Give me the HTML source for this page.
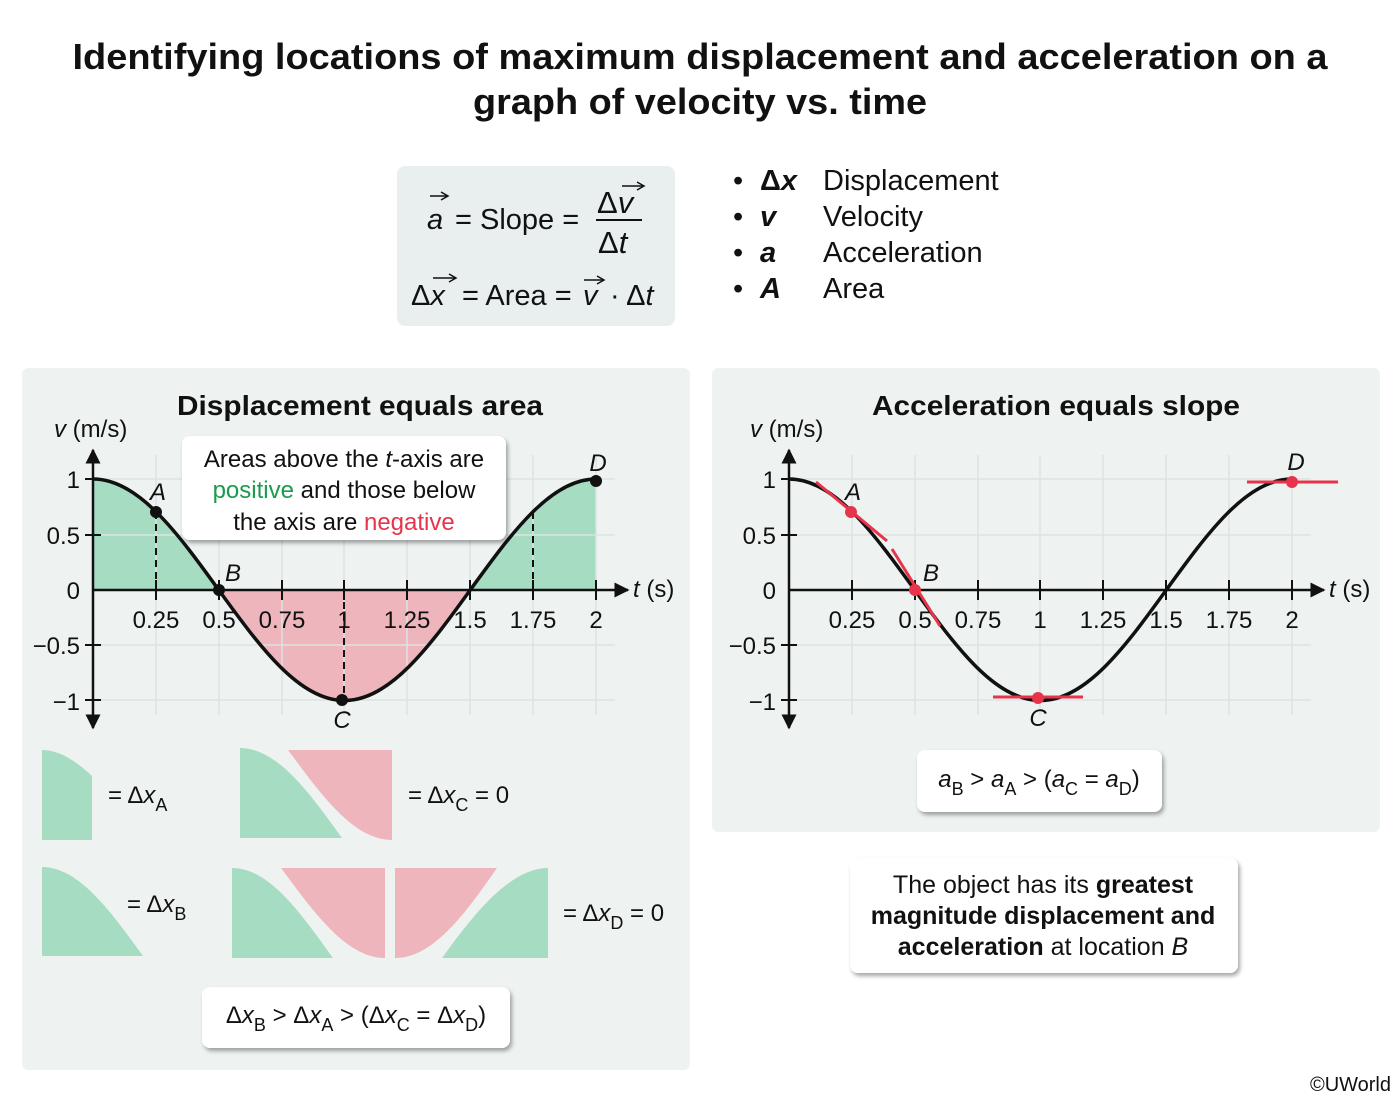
<!DOCTYPE html>
<html><head><meta charset="utf-8"><style>
html,body{margin:0;padding:0;background:#fff}
svg{display:block}
text{font-family:"Liberation Sans",Arial,sans-serif;fill:#111}
</style></head><body>
<svg width="1400" height="1102" viewBox="0 0 1400 1102" xmlns="http://www.w3.org/2000/svg">
<defs>
<filter id="sh" x="-10%" y="-20%" width="130%" height="150%"><feDropShadow dx="2" dy="3" stdDeviation="2" flood-color="#000" flood-opacity="0.35"/></filter>
<marker id="ar" viewBox="0 0 10 10" refX="9" refY="5" markerWidth="6" markerHeight="6" orient="auto-start-reverse"><path d="M0,0 L10,5 L0,10 Z" fill="#111"/></marker>
</defs>
<rect width="1400" height="1102" fill="#fff"/>
<!-- title -->
<text x="700" y="69" font-size="36" font-weight="bold" text-anchor="middle" textLength="1255" lengthAdjust="spacingAndGlyphs">Identifying locations of maximum displacement and acceleration on a</text>
<text x="700" y="114" font-size="36" font-weight="bold" text-anchor="middle" textLength="454" lengthAdjust="spacingAndGlyphs">graph of velocity vs. time</text>

<!-- formula box -->
<rect x="397" y="166" width="278" height="160" rx="8" fill="#e9efef"/>
<text x="427" y="229" font-size="29" font-style="italic">a</text>
<text x="455" y="229" font-size="29">= Slope =</text>
<line x1="430" y1="196" x2="447" y2="196" stroke="#111" stroke-width="1.5"/><path d="M441,192 L448,196 L441,200" fill="none" stroke="#111" stroke-width="1.5"/>
<text x="597" y="213" font-size="31">Δ<tspan font-style="italic">v</tspan></text>
<line x1="622" y1="186" x2="643" y2="186" stroke="#111" stroke-width="1.5"/><path d="M637,182 L644,186 L637,190" fill="none" stroke="#111" stroke-width="1.5"/>
<line x1="596" y1="220" x2="642" y2="220" stroke="#111" stroke-width="2"/>
<text x="598" y="253" font-size="31">Δ<tspan font-style="italic">t</tspan></text>
<text x="411" y="305" font-size="29">Δ<tspan font-style="italic">x</tspan></text>
<line x1="433" y1="278" x2="455" y2="278" stroke="#111" stroke-width="1.5"/><path d="M449,274 L456,278 L449,282" fill="none" stroke="#111" stroke-width="1.5"/>
<text x="462" y="305" font-size="29">= Area =</text>
<text x="583" y="305" font-size="29" font-style="italic">v</text>
<line x1="584" y1="280" x2="603" y2="280" stroke="#111" stroke-width="1.5"/><path d="M597,276 L604,280 L597,284" fill="none" stroke="#111" stroke-width="1.5"/>
<text x="610" y="305" font-size="29">· Δ<tspan font-style="italic">t</tspan></text>

<!-- legend -->
<g font-size="29">
<text x="733" y="190">•</text><text x="760" y="190" font-weight="bold"><tspan>Δ</tspan><tspan font-style="italic">x</tspan></text><text x="823" y="190">Displacement</text>
<text x="733" y="226">•</text><text x="760" y="226" font-weight="bold" font-style="italic">v</text><text x="823" y="226">Velocity</text>
<text x="733" y="262">•</text><text x="760" y="262" font-weight="bold" font-style="italic">a</text><text x="823" y="262">Acceleration</text>
<text x="733" y="298">•</text><text x="760" y="298" font-weight="bold" font-style="italic">A</text><text x="823" y="298">Area</text>
</g>

<!-- panels -->
<rect x="22" y="368" width="668" height="702" rx="6" fill="#eef3f2"/>
<rect x="712" y="368" width="668" height="464" rx="6" fill="#eef3f2"/>
<text x="360" y="415" font-size="28" font-weight="bold" text-anchor="middle" textLength="366" lengthAdjust="spacingAndGlyphs">Displacement equals area</text>
<text x="1056" y="415" font-size="28" font-weight="bold" text-anchor="middle" textLength="368" lengthAdjust="spacingAndGlyphs">Acceleration equals slope</text>

<!-- left chart fills -->
<path d="M93,590 L93,479 C138.5,479 177.8,533.4 218.75,590 Z" fill="#a6dcc2"/>
<path d="M218.75,590 C259.8,646.6 299,700.5 344.5,700.5 C390,700.5 429.3,646.6 470.25,590 Z" fill="#efb5bd"/>
<path d="M470.25,590 C511.3,533.4 550.5,479 596,479 L596,590 Z" fill="#a6dcc2"/>

<g id="chart">
<g stroke="#dce3e2" stroke-width="1.5">
<line x1="156" y1="455" x2="156" y2="715"/><line x1="219" y1="455" x2="219" y2="715"/><line x1="282" y1="455" x2="282" y2="715"/><line x1="344" y1="455" x2="344" y2="715"/><line x1="407" y1="455" x2="407" y2="715"/><line x1="470" y1="455" x2="470" y2="715"/><line x1="533" y1="455" x2="533" y2="715"/><line x1="596" y1="455" x2="596" y2="715"/>
<line x1="93" y1="479" x2="615" y2="479"/><line x1="93" y1="535" x2="615" y2="535"/><line x1="93" y1="645" x2="615" y2="645"/><line x1="93" y1="700" x2="615" y2="700"/>
</g>
<line x1="93" y1="728" x2="93" y2="450" stroke="#111" stroke-width="2.5" marker-end="url(#ar)" marker-start="url(#ar)"/>
<line x1="93" y1="590" x2="628" y2="590" stroke="#111" stroke-width="2.5" marker-end="url(#ar)"/>
<g stroke="#111" stroke-width="2">
<line x1="85" y1="479" x2="101" y2="479"/><line x1="85" y1="535" x2="101" y2="535"/><line x1="85" y1="645" x2="101" y2="645"/><line x1="85" y1="700" x2="101" y2="700"/>
<line x1="156" y1="580" x2="156" y2="600"/><line x1="219" y1="580" x2="219" y2="600"/><line x1="282" y1="580" x2="282" y2="600"/><line x1="344" y1="580" x2="344" y2="600"/><line x1="407" y1="580" x2="407" y2="600"/><line x1="470" y1="580" x2="470" y2="600"/><line x1="533" y1="580" x2="533" y2="600"/><line x1="596" y1="580" x2="596" y2="600"/>
</g>
<g font-size="24" text-anchor="end">
<text x="80" y="488">1</text><text x="80" y="544">0.5</text><text x="80" y="599">0</text><text x="80" y="654">−0.5</text><text x="80" y="710">−1</text>
</g>
<g font-size="24" text-anchor="middle">
<text x="156" y="628">0.25</text><text x="219" y="628">0.5</text><text x="282" y="628">0.75</text><text x="344" y="628">1</text><text x="407" y="628">1.25</text><text x="470" y="628">1.5</text><text x="533" y="628">1.75</text><text x="596" y="628">2</text>
</g>
<text x="54" y="437" font-size="24"><tspan font-style="italic">v</tspan> (m/s)</text>
<text x="633" y="597" font-size="24"><tspan font-style="italic">t</tspan> (s)</text>
<path d="M93,479 C138.5,479 177.8,533.4 218.75,590 C259.8,646.6 299,700.5 344.5,700.5 C390,700.5 429.3,646.6 470.25,590 C511.3,533.4 550.5,479 596,479" fill="none" stroke="#111" stroke-width="3.5"/>
</g>
<use href="#chart" transform="translate(696,0)"/>

<g stroke="#111" stroke-width="2" stroke-dasharray="7,5">
<line x1="156" y1="512" x2="156" y2="590"/><line x1="533" y1="512" x2="533" y2="590"/><line x1="344" y1="590" x2="344" y2="700"/>
</g>
<g fill="#111"><circle cx="156" cy="512" r="6"/><circle cx="219" cy="590" r="6"/><circle cx="342" cy="700" r="6"/><circle cx="596" cy="481" r="6"/></g>
<g font-size="24" font-style="italic" text-anchor="middle">
<text x="158" y="500">A</text><text x="233" y="581">B</text><text x="342" y="728">C</text><text x="598" y="471">D</text>
</g>

<rect x="182" y="436" width="324" height="104" rx="8" fill="#fff" filter="url(#sh)"/>
<g font-size="24" text-anchor="middle">
<text x="344" y="467">Areas above the <tspan font-style="italic">t</tspan>-axis are</text>
<text x="344" y="498"><tspan fill="#1a9c4e">positive</tspan> and those below</text>
<text x="344" y="530">the axis are <tspan fill="#e8344a">negative</tspan></text>
</g>

<g fill="#a6dcc2">
<path d="M42,840 L42,750 C58.7,750 75,760 92,776 L92,840 Z"/>
<path d="M42,956 L42,867 C78.6,867 110,910.4 143,956 Z"/>
<path d="M240,838 L240,748 C277,748 309,792 342,838 Z"/>
<path d="M232,958 L232,868 C269,868 300,912 333,958 Z"/>
<path d="M442,958 C475,912 511,868 548,868 L548,958 Z"/>
</g>
<g fill="#efb5bd">
<path d="M288,750 C322,796 354,840 392,840 L392,750 Z"/>
<path d="M281,868 C315,914 347,958 385,958 L385,868 Z"/>
<path d="M395,868 L395,958 C433,958 465,914 497,868 Z"/>
</g>
<g font-size="24">
<text x="108" y="803">= Δ<tspan font-style="italic">x</tspan><tspan font-size="18" dy="8">A</tspan></text>
<text x="408" y="803">= Δ<tspan font-style="italic">x</tspan><tspan font-size="18" dy="8">C</tspan><tspan dy="-8"> = 0</tspan></text>
<text x="127" y="912">= Δ<tspan font-style="italic">x</tspan><tspan font-size="18" dy="8">B</tspan></text>
<text x="563" y="921">= Δ<tspan font-style="italic">x</tspan><tspan font-size="18" dy="8">D</tspan><tspan dy="-8"> = 0</tspan></text>
</g>
<rect x="202" y="987" width="308" height="61" rx="8" fill="#fff" filter="url(#sh)"/>
<text x="356" y="1023" font-size="24" text-anchor="middle">Δ<tspan font-style="italic">x</tspan><tspan font-size="18" dy="8">B</tspan><tspan dy="-8"> &gt; Δ</tspan><tspan font-style="italic">x</tspan><tspan font-size="18" dy="8">A</tspan><tspan dy="-8"> &gt; (Δ</tspan><tspan font-style="italic">x</tspan><tspan font-size="18" dy="8">C</tspan><tspan dy="-8"> = Δ</tspan><tspan font-style="italic">x</tspan><tspan font-size="18" dy="8">D</tspan><tspan dy="-8">)</tspan></text>

<g stroke="#e8344a" stroke-width="3">
<line x1="816" y1="482" x2="887" y2="541"/><line x1="892" y1="549" x2="940" y2="626"/>
<line x1="993" y1="697" x2="1083" y2="697"/><line x1="1247" y1="482" x2="1338" y2="482"/>
</g>
<g fill="#e8344a"><circle cx="851" cy="512" r="6"/><circle cx="915" cy="590" r="6"/><circle cx="1038" cy="698" r="6"/><circle cx="1292" cy="482" r="6"/></g>
<g font-size="24" font-style="italic" text-anchor="middle">
<text x="853" y="500">A</text><text x="931" y="581">B</text><text x="1038" y="726">C</text><text x="1296" y="470">D</text>
</g>
<rect x="917" y="750" width="245" height="62" rx="8" fill="#fff" filter="url(#sh)"/>
<text x="1039" y="787" font-size="24" text-anchor="middle"><tspan font-style="italic">a</tspan><tspan font-size="18" dy="8">B</tspan><tspan dy="-8"> &gt; </tspan><tspan font-style="italic">a</tspan><tspan font-size="18" dy="8">A</tspan><tspan dy="-8"> &gt; (</tspan><tspan font-style="italic">a</tspan><tspan font-size="18" dy="8">C</tspan><tspan dy="-8"> = </tspan><tspan font-style="italic">a</tspan><tspan font-size="18" dy="8">D</tspan><tspan dy="-8">)</tspan></text>

<rect x="850" y="858" width="388" height="115" rx="8" fill="#fff" filter="url(#sh)"/>
<g font-size="25" text-anchor="middle">
<text x="1043" y="893">The object has its <tspan font-weight="bold">greatest</tspan></text>
<text x="1043" y="924" font-weight="bold">magnitude displacement and</text>
<text x="1043" y="955"><tspan font-weight="bold">acceleration</tspan> at location <tspan font-style="italic">B</tspan></text>
</g>
<text x="1391" y="1091" font-size="20" text-anchor="end">©UWorld</text>
</svg>
</body></html>
